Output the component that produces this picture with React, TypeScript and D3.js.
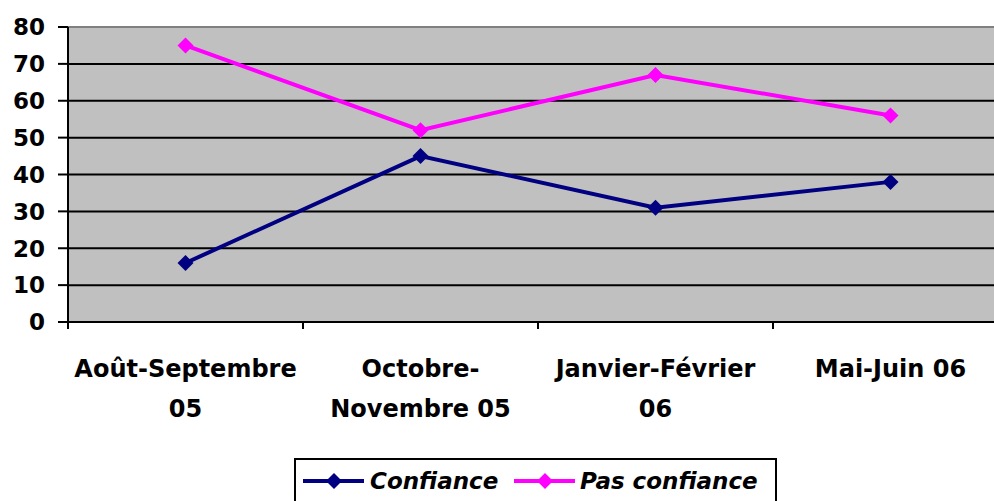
import React from "react";
import * as d3 from "d3";

const categories: string[][] = [
  ["Août-Septembre", "05"],
  ["Octobre-", "Novembre 05"],
  ["Janvier-Février", "06"],
  ["Mai-Juin 06"],
];
const confiance = [16, 45, 31, 38];
const pasConfiance = [75, 52, 67, 56];
const yTicks = [0, 10, 20, 30, 40, 50, 60, 70, 80];
const seriesNames = ["Confiance", "Pas confiance"];
const seriesColors = ["#000080", "#FF00FF"];

const W = 994;
const H = 501;
const FONT = "'DejaVu Sans', Verdana, sans-serif";

export default function App() {
  const left = 68;
  const bandW = 235;
  const x = d3
    .scaleBand<number>()
    .domain(d3.range(categories.length))
    .range([left, left + bandW * categories.length]);
  const y = d3.scaleLinear().domain([0, 80]).range([322, 27]);
  const line = d3
    .line<number>()
    .x((_, i) => (x(i) as number) + x.bandwidth() / 2)
    .y((d) => y(d));
  const series = [confiance, pasConfiance];
  const diamond = (cx: number, cy: number, r: number) =>
    `M${cx},${cy - r}L${cx + r},${cy}L${cx},${cy + r}L${cx - r},${cy}Z`;

  return (
    <svg
      width={W}
      height={H}
      style={{ position: "absolute", left: 0, top: 0, background: "#fff" }}
      fontFamily={FONT}
    >
      <rect x={left} y={y(80)} width={W - left} height={y(0) - y(80)} fill="#C0C0C0" />
      <line x1={left} x2={W} y1={y(80)} y2={y(80)} stroke="#808080" strokeWidth={2} />
      {yTicks.map((t) => (
        <g key={t}>
          {t > 0 && t < 80 && (
            <line x1={left} x2={W} y1={y(t)} y2={y(t)} stroke="#000" strokeWidth={2} />
          )}
          <line x1={58} x2={left} y1={y(t)} y2={y(t)} stroke="#000" strokeWidth={2} />
          <text
            x={45}
            y={y(t)}
            dy="0.36em"
            textAnchor="end"
            fontSize={23}
            fontWeight="bold"
            fill="#000"
          >
            {t}
          </text>
        </g>
      ))}
      <line x1={left} x2={W} y1={y(0)} y2={y(0)} stroke="#000" strokeWidth={2} />
      <line x1={left} x2={left} y1={y(80)} y2={y(0) + 7} stroke="#000" strokeWidth={2} />
      {categories.map((_, i) =>
        i > 0 ? (
          <line
            key={i}
            x1={x(i) as number}
            x2={x(i) as number}
            y1={y(0)}
            y2={y(0) + 7}
            stroke="#000"
            strokeWidth={2}
          />
        ) : null
      )}
      {categories.map((lines, i) => (
        <text
          key={i}
          x={(x(i) as number) + x.bandwidth() / 2}
          y={377}
          textAnchor="middle"
          fontSize={24}
          fontWeight="bold"
          fill="#000"
        >
          {lines.map((l, j) => (
            <tspan key={j} x={(x(i) as number) + x.bandwidth() / 2} dy={j === 0 ? 0 : 40}>
              {l}
            </tspan>
          ))}
        </text>
      ))}
      {series.map((s, k) => (
        <g key={k}>
          <path d={line(s) || ""} fill="none" stroke={seriesColors[k]} strokeWidth={4} />
          {s.map((v, i) => (
            <path
              key={i}
              d={diamond((x(i) as number) + x.bandwidth() / 2, y(v), 8)}
              fill={seriesColors[k]}
            />
          ))}
        </g>
      ))}
      <rect x={295} y={459} width={481} height={50} fill="#fff" stroke="#000" strokeWidth={2} />
      {seriesNames.map((n, k) => {
        const x0 = k === 0 ? 303 : 514;
        const tx = k === 0 ? 370 : 580;
        return (
          <g key={k}>
            <line x1={x0} x2={x0 + 61} y1={481} y2={481} stroke={seriesColors[k]} strokeWidth={4} />
            <path d={diamond(x0 + 31, 481, 8)} fill={seriesColors[k]} />
            <text
              x={tx}
              y={481}
              dy="0.36em"
              fontSize={23}
              fontWeight="bold"
              fontStyle="italic"
              fill="#000"
            >
              {n}
            </text>
          </g>
        );
      })}
    </svg>
  );
}
